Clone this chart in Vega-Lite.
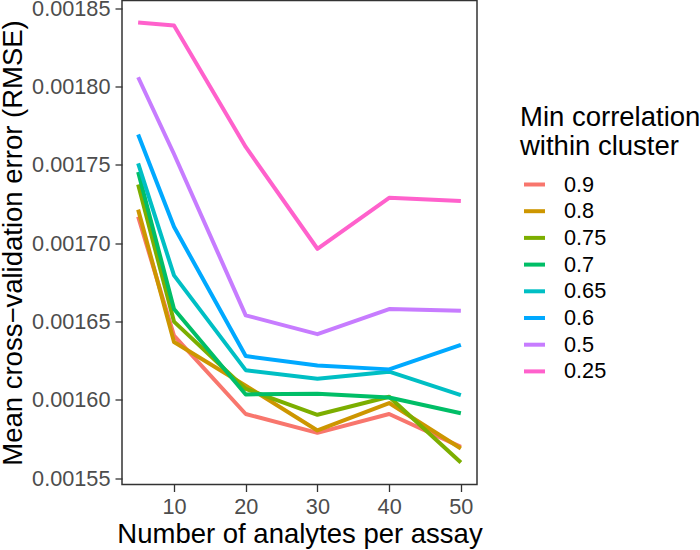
{
  "$schema": "https://vega.github.io/schema/vega-lite/v6.json",
  "width": 355,
  "height": 484,
  "autosize": {"type": "none"},
  "padding": {"left": 122, "top": 0.5, "right": 223, "bottom": 65.5},
  "background": "white",
  "config": {
    "font": "Liberation Sans",
    "view": {"stroke": "#333333", "strokeWidth": 1.5},
    "axis": {
      "grid": false,
      "domain": false,
      "tickColor": "#333333",
      "tickWidth": 1.3,
      "tickSize": 7,
      "labelPadding": 5,
      "labelFontSize": 21.7,
      "labelColor": "#4D4D4D",
      "titleFontSize": 27.5,
      "titleFontWeight": "normal",
      "titleColor": "black"
    }
  },
  "data": {
    "values": [
      {"n": 5, "r": "0.9", "rmse": 0.001717},
      {"n": 10, "r": "0.9", "rmse": 0.001641},
      {"n": 20, "r": "0.9", "rmse": 0.001591},
      {"n": 30, "r": "0.9", "rmse": 0.001579},
      {"n": 40, "r": "0.9", "rmse": 0.001591},
      {"n": 50, "r": "0.9", "rmse": 0.001570},
      {"n": 5, "r": "0.8", "rmse": 0.0017215},
      {"n": 10, "r": "0.8", "rmse": 0.001637},
      {"n": 20, "r": "0.8", "rmse": 0.001609},
      {"n": 30, "r": "0.8", "rmse": 0.0015805},
      {"n": 40, "r": "0.8", "rmse": 0.001598},
      {"n": 50, "r": "0.8", "rmse": 0.001569},
      {"n": 5, "r": "0.75", "rmse": 0.0017375},
      {"n": 10, "r": "0.75", "rmse": 0.00165},
      {"n": 20, "r": "0.75", "rmse": 0.001607},
      {"n": 30, "r": "0.75", "rmse": 0.0015905},
      {"n": 40, "r": "0.75", "rmse": 0.001602},
      {"n": 50, "r": "0.75", "rmse": 0.00156},
      {"n": 5, "r": "0.7", "rmse": 0.0017455},
      {"n": 10, "r": "0.7", "rmse": 0.001658},
      {"n": 20, "r": "0.7", "rmse": 0.0016035},
      {"n": 30, "r": "0.7", "rmse": 0.001604},
      {"n": 40, "r": "0.7", "rmse": 0.0016015},
      {"n": 50, "r": "0.7", "rmse": 0.0015915},
      {"n": 5, "r": "0.65", "rmse": 0.001751},
      {"n": 10, "r": "0.65", "rmse": 0.0016795},
      {"n": 20, "r": "0.65", "rmse": 0.001619},
      {"n": 30, "r": "0.65", "rmse": 0.0016135},
      {"n": 40, "r": "0.65", "rmse": 0.001618},
      {"n": 50, "r": "0.65", "rmse": 0.001603},
      {"n": 5, "r": "0.6", "rmse": 0.0017695},
      {"n": 10, "r": "0.6", "rmse": 0.0017105},
      {"n": 20, "r": "0.6", "rmse": 0.001628},
      {"n": 30, "r": "0.6", "rmse": 0.001622},
      {"n": 40, "r": "0.6", "rmse": 0.0016195},
      {"n": 50, "r": "0.6", "rmse": 0.0016352},
      {"n": 5, "r": "0.5", "rmse": 0.001806},
      {"n": 10, "r": "0.5", "rmse": 0.001757},
      {"n": 20, "r": "0.5", "rmse": 0.001654},
      {"n": 30, "r": "0.5", "rmse": 0.001642},
      {"n": 40, "r": "0.5", "rmse": 0.001658},
      {"n": 50, "r": "0.5", "rmse": 0.001657},
      {"n": 5, "r": "0.25", "rmse": 0.001841},
      {"n": 10, "r": "0.25", "rmse": 0.001839},
      {"n": 20, "r": "0.25", "rmse": 0.0017615},
      {"n": 30, "r": "0.25", "rmse": 0.0016965},
      {"n": 40, "r": "0.25", "rmse": 0.001729},
      {"n": 50, "r": "0.25", "rmse": 0.001727}
    ]
  },
  "mark": {"type": "line", "strokeWidth": 4, "strokeCap": "butt", "strokeJoin": "round"},
  "encoding": {
    "x": {
      "field": "n",
      "type": "quantitative",
      "title": "Number of analytes per assay",
      "scale": {"domain": [2.75, 52.25], "nice": false, "zero": false},
      "axis": {"values": [10, 20, 30, 40, 50], "titlePadding": 2}
    },
    "y": {
      "field": "rmse",
      "type": "quantitative",
      "title": "Mean cross−validation error (RMSE)",
      "scale": {"domain": [0.001546, 0.001855], "nice": false, "zero": false},
      "axis": {
        "values": [0.00155, 0.0016, 0.00165, 0.0017, 0.00175, 0.0018, 0.00185],
        "format": ".5f",
        "titlePadding": 4
      }
    },
    "color": {
      "field": "r",
      "type": "nominal",
      "scale": {
        "domain": ["0.9", "0.8", "0.75", "0.7", "0.65", "0.6", "0.5", "0.25"],
        "range": ["#F8766D", "#CD9600", "#7CAE00", "#00BE67", "#00BFC4", "#00A9FF", "#C77CFF", "#FF61CC"]
      },
      "legend": {
        "title": ["Min correlation", "within cluster"],
        "orient": "none",
        "legendX": 398,
        "legendY": 103,
        "padding": 0,
        "titleFontSize": 27.5,
        "titleFontWeight": "normal",
        "titleColor": "black",
        "titleLineHeight": 29,
        "titleLimit": 400,
        "titlePadding": 12,
        "labelFontSize": 21.7,
        "labelColor": "black",
        "labelOffset": 17,
        "symbolType": "stroke",
        "symbolSize": 441,
        "symbolStrokeWidth": 4,
        "symbolOffset": 2,
        "rowPadding": 1.7
      }
    }
  }
}
